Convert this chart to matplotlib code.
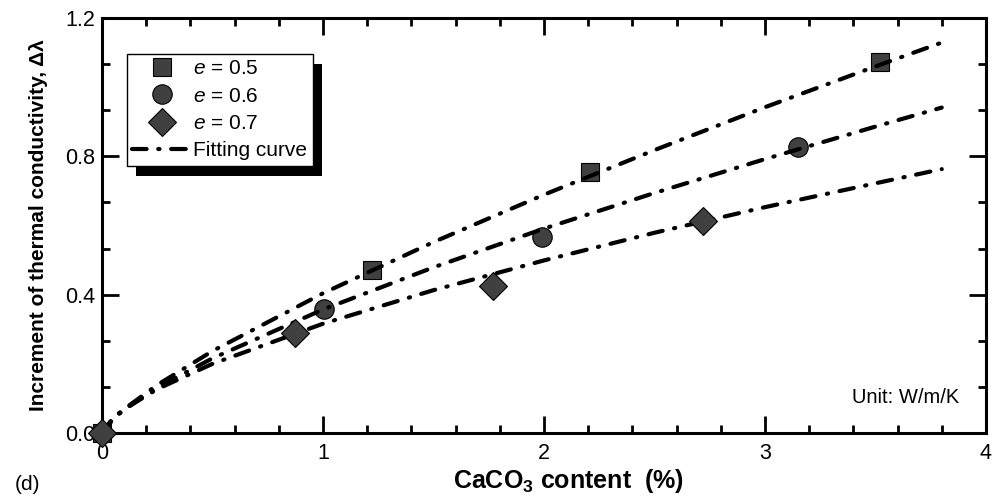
import numpy as np
import matplotlib
matplotlib.use("Agg")
import matplotlib.pyplot as plt
from matplotlib.patches import Rectangle
from matplotlib.lines import Line2D
from matplotlib.transforms import IdentityTransform

plt.rcParams["font.family"] = ["Liberation Sans", "DejaVu Sans"]
plt.rcParams["mathtext.fontset"] = "custom"
plt.rcParams["mathtext.rm"] = "Liberation Sans"
plt.rcParams["mathtext.it"] = "Liberation Sans:italic"
plt.rcParams["mathtext.bf"] = "Liberation Sans:bold"

# Mediciones (contenido de CaCO3 en %, incremento de conductividad)
x_e05 = [0.0, 1.22, 2.21, 3.52]
y_e05 = [0.0, 0.471, 0.754, 1.073]
x_e06 = [0.0, 1.005, 1.99, 3.15]
y_e06 = [0.0, 0.358, 0.566, 0.828]
x_e07 = [0.0, 0.873, 1.77, 2.72]
y_e07 = [0.0, 0.289, 0.426, 0.612]

# Curvas de ajuste leidas punto a punto
x_fit = [0.0, 0.05, 0.1, 0.25, 0.5, 1.0, 1.5, 2.0, 2.5, 3.0, 3.5, 3.8]
fit_e05 = [0.0, 0.040, 0.069, 0.139, 0.237, 0.404, 0.552, 0.689, 0.818, 0.942, 1.060, 1.129]
fit_e06 = [0.0, 0.041, 0.067, 0.131, 0.216, 0.357, 0.479, 0.591, 0.694, 0.792, 0.886, 0.941]
fit_e07 = [0.0, 0.044, 0.069, 0.127, 0.200, 0.316, 0.413, 0.499, 0.579, 0.653, 0.722, 0.763]

labels = [r"$\mathit{e}$ = 0.5", r"$\mathit{e}$ = 0.6", r"$\mathit{e}$ = 0.7"]
markers = ["s", "o", "D"]
msizes = [13, 14, 14.5]

FACE = "#404040"
DASH = (0, (3.5, 2.8, 0.3, 2.8))

fig = plt.figure(figsize=(10.03, 5.0), dpi=100)
ax = fig.add_axes([0.1017, 0.134, 0.8813, 0.830])

series = [(x_e05, y_e05, fit_e05), (x_e06, y_e06, fit_e06), (x_e07, y_e07, fit_e07)]
for i, (xs, ys, fit) in enumerate(series):
    ax.plot(x_fit, fit, color="black", lw=3, linestyle=DASH,
            dash_capstyle="round", solid_capstyle="round", zorder=4)
    # el rombo queda encima en el origen
    ax.plot(xs, ys, linestyle="none", marker=markers[i], markersize=msizes[i],
            markerfacecolor=FACE, markeredgecolor="black", markeredgewidth=0.8,
            clip_on=False, zorder=6 if i == 2 else 3)

ax.set_xlim(0, 4)
ax.set_ylim(0, 1.2)
ax.set_xticks([0, 1, 2, 3, 4])
ax.set_xticks(np.arange(0, 4.01, 0.2), minor=True)
ax.set_yticks([0, 0.4, 0.8, 1.2])
ax.set_yticks(np.arange(0, 1.21, 0.4 / 3), minor=True)
ax.set_xticklabels(["0", "1", "2", "3", "4"])
ax.set_yticklabels(["0.0", "0.4", "0.8", "1.2"])

for s in ax.spines.values():
    s.set_linewidth(2.2)
ax.tick_params(which="both", direction="in", top=True, right=True, width=2, labelsize=15.5)
ax.tick_params(which="major", length=12, pad=5)
ax.tick_params(axis="x", which="major", pad=7)
ax.tick_params(which="minor", length=6)

ax.set_xlabel(r"CaCO$_\mathbf{3}$ content  (%)", fontsize=18, fontweight="bold")
ax.xaxis.set_label_coords(0.528, -0.082)
ax.set_ylabel("Increment of thermal conductivity, Δλ", fontsize=15, fontweight="bold", labelpad=12)

ax.text(0.97, 0.085, "Unit: W/m/K", transform=ax.transAxes, fontsize=14.5,
        ha="right", va="center")
fig.text(0.015, 0.03, "(d)", fontsize=15, ha="left", va="center")

handles = [Line2D([], [], linestyle="none", marker=markers[i], markersize=msizes[i],
                  markerfacecolor=FACE, markeredgecolor="black", markeredgewidth=0.8)
           for i in range(3)]
handles.append(Line2D([], [], color="black", lw=3, linestyle=DASH, dash_capstyle="round"))
leg = ax.legend(handles, labels + ["Fitting curve"], loc="upper left",
                bbox_to_anchor=(0.028, 0.913), borderaxespad=0, fontsize=15,
                frameon=True, fancybox=False, framealpha=1, edgecolor="black",
                handlelength=2.9, handletextpad=0.05, labelspacing=0.4, borderpad=0.25)
leg.get_frame().set_linewidth(1.0)
leg.set_zorder(10)

# sombra negra desplazada detras de la leyenda
fig.canvas.draw()
bb = leg.get_window_extent()
shadow = Rectangle((bb.x0 + 9, bb.y0 - 10), bb.width, bb.height, transform=IdentityTransform(),
                   facecolor="black", edgecolor="none", zorder=9)
ax.add_artist(shadow)

fig.savefig("out.png", dpi=100)
